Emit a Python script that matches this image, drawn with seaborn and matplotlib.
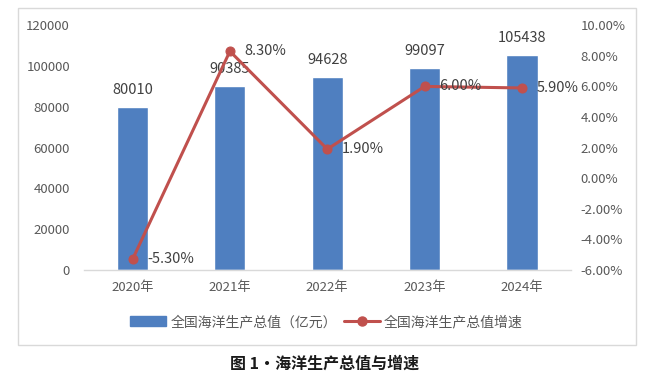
import matplotlib
matplotlib.use("Agg")
import matplotlib.pyplot as plt
import seaborn as sns
import pandas as pd
from matplotlib.patches import Rectangle
from matplotlib.lines import Line2D
from matplotlib.patches import Patch

years = ["2020年", "2021年", "2022年", "2023年", "2024年"]
gdp = [80010, 90385, 94628, 99097, 105438]
growth = [-5.30, 8.30, 1.90, 6.00, 5.90]
bar_name = "全国海洋生产总值（亿元）"
line_name = "全国海洋生产总值增速"
title = "图 1·海洋生产总值与增速"

sns.set_theme(style="white")
plt.rcParams['font.family'] = ['Noto Sans CJK SC', 'DejaVu Sans']

BLUE = "#4F7FC0"
RED = "#C0504D"
TICK = "#595959"
LAB = "#404040"

fig = plt.figure(figsize=(6.5, 3.82), dpi=100)
fig.patch.set_facecolor("white")
fig.patches.append(Rectangle((0.028, 0.097), 0.95, 0.882, transform=fig.transFigure,
                             fill=False, edgecolor="#D9D9D9", linewidth=1.0))

ax = fig.add_axes([0.129, 0.293, 0.749, 0.641])
df = pd.DataFrame({"year": years, "gdp": gdp, "growth": growth})
sns.barplot(data=df, x="year", y="gdp", color=BLUE, saturation=1, width=0.32, ax=ax)
ax.set_ylim(0, 120000)
ax.set_yticks(range(0, 120001, 20000))
ax.set_xlim(-0.5, 4.5)
ax.set_xlabel("")
ax.set_ylabel("")
for s in ["top", "right", "left"]:
    ax.spines[s].set_visible(False)
ax.spines["bottom"].set_color("#D9D9D9")
ax.spines["bottom"].set_linewidth(1.0)
ax.tick_params(axis="both", length=0, labelsize=9.5, labelcolor=TICK)
ax.tick_params(axis="x", pad=8)
ax.tick_params(axis="y", pad=10)
ax.bar_label(ax.containers[0], labels=[str(v) for v in gdp], padding=7,
             fontsize=10.5, color=LAB)

ax2 = ax.twinx()
sns.lineplot(x=list(range(len(years))), y=growth, color=RED, linewidth=2.2,
             marker="o", markersize=6.5, markeredgecolor=RED, ax=ax2)
ax2.set_ylim(-6, 10)
ax2.set_yticks(range(-6, 11, 2))
ax2.set_yticklabels([f"{v:.2f}%" for v in range(-6, 11, 2)])
for s in ["top", "right", "left", "bottom"]:
    ax2.spines[s].set_visible(False)
ax2.tick_params(axis="y", length=0, labelsize=9.5, labelcolor=TICK, pad=7)
for i, g in enumerate(growth):
    ax2.annotate(f"{g:.2f}%", (i, g), xytext=(10.5, 0), textcoords="offset points",
                 ha="left", va="center", fontsize=10.5, color=LAB)

handles = [Patch(facecolor=BLUE, edgecolor=BLUE),
           Line2D([0], [0], color=RED, linewidth=2.2, marker="o", markersize=6.5)]
fig.legend(handles, [bar_name, line_name], loc="center", bbox_to_anchor=(0.502, 0.157),
           ncol=2, frameon=False, fontsize=10, handlelength=2.6, handletextpad=0.3,
           columnspacing=0.5, labelcolor=TICK)

fig.text(0.5, 0.048, title, ha="center", va="center", fontsize=11.5,
         fontweight="bold", color="#1a1a1a")

fig.savefig("out.png", dpi=100, facecolor="white")
